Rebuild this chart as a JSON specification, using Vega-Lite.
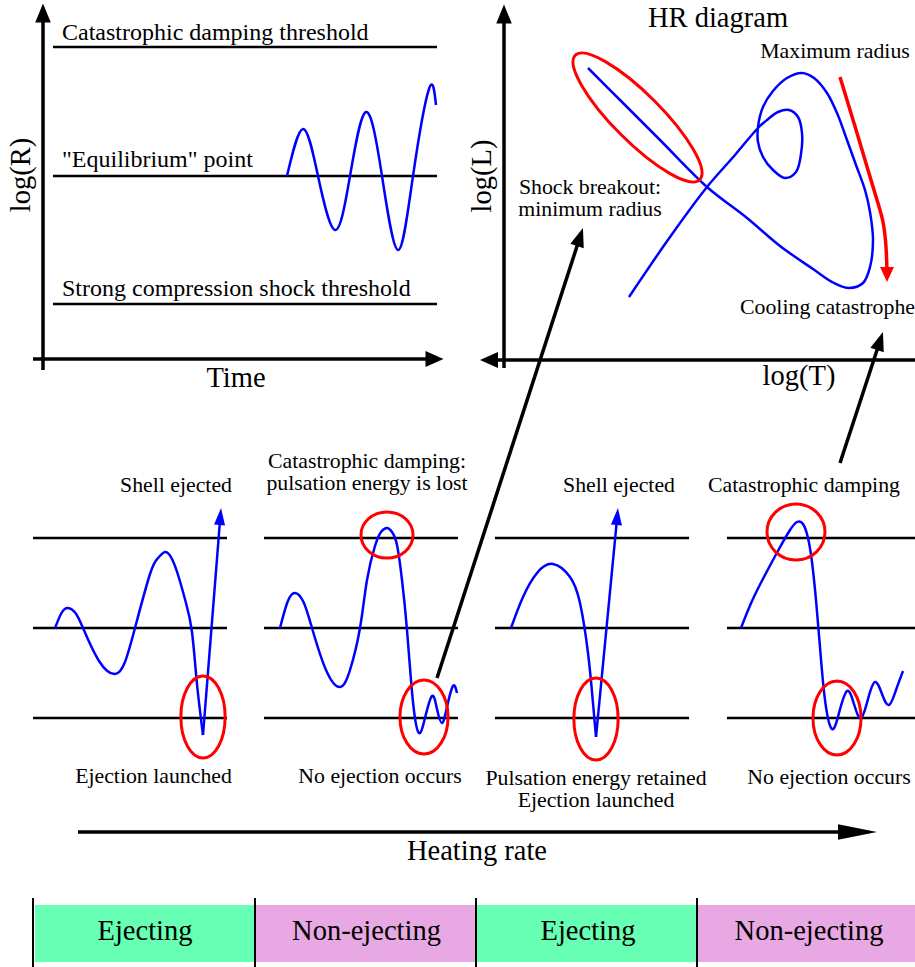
{
  "$schema": "https://vega.github.io/schema/vega-lite/v6.json",
  "width": 915,
  "height": 967,
  "padding": 0,
  "autosize": {"type": "none"},
  "background": "white",
  "config": {"view": {"stroke": null}},
  "encoding": {
    "x": {"field": "x", "type": "quantitative", "scale": {"domain": [0, 915], "nice": false, "zero": false}, "axis": null},
    "y": {"field": "y", "type": "quantitative", "scale": {"domain": [0, 967], "nice": false, "zero": false, "reverse": true}, "axis": null}
  },
  "layer": [
    {
      "data": {"values": [
        {"x": 35, "x2": 255, "y": 905, "y2": 962, "label": "Ejecting"},
        {"x": 255, "x2": 476, "y": 905, "y2": 962, "label": "Non-ejecting"},
        {"x": 476, "x2": 697, "y": 905, "y2": 962, "label": "Ejecting"},
        {"x": 697, "x2": 915, "y": 905, "y2": 962, "label": "Non-ejecting"}
      ]},
      "mark": {"type": "rect"},
      "encoding": {
        "x2": {"field": "x2"},
        "y2": {"field": "y2"},
        "color": {"field": "label", "type": "nominal", "scale": {"domain": ["Ejecting", "Non-ejecting"], "range": ["#66ffb3", "#e8a8e3"]}, "legend": null}
      }
    },
    {
      "data": {"values": [
        {"x": 33, "y": 898, "x2": 33, "y2": 967},
        {"x": 255, "y": 898, "x2": 255, "y2": 967},
        {"x": 476, "y": 898, "x2": 476, "y2": 967},
        {"x": 697, "y": 898, "x2": 697, "y2": 967}
      ]},
      "mark": {"type": "rule", "color": "black", "strokeWidth": 2},
      "encoding": {"x2": {"field": "x2"}, "y2": {"field": "y2"}}
    },
    {
      "data": {"values": [
        {"x": 53, "y": 47, "x2": 437, "y2": 47},
        {"x": 53, "y": 176, "x2": 437, "y2": 176},
        {"x": 53, "y": 304, "x2": 437, "y2": 304},
        {"x": 33, "y": 538, "x2": 227, "y2": 538},
        {"x": 33, "y": 628, "x2": 227, "y2": 628},
        {"x": 33, "y": 718, "x2": 227, "y2": 718},
        {"x": 264, "y": 538, "x2": 458, "y2": 538},
        {"x": 264, "y": 628, "x2": 458, "y2": 628},
        {"x": 264, "y": 718, "x2": 458, "y2": 718},
        {"x": 495, "y": 538, "x2": 689, "y2": 538},
        {"x": 495, "y": 628, "x2": 689, "y2": 628},
        {"x": 495, "y": 718, "x2": 689, "y2": 718},
        {"x": 727, "y": 538, "x2": 915, "y2": 538},
        {"x": 727, "y": 628, "x2": 915, "y2": 628},
        {"x": 727, "y": 718, "x2": 915, "y2": 718}
      ]},
      "mark": {"type": "rule", "color": "black", "strokeWidth": 2.5},
      "encoding": {"x2": {"field": "x2"}, "y2": {"field": "y2"}}
    },
    {
      "data": {"values": [
        {"x": 43, "y": 20, "x2": 43, "y2": 370},
        {"x": 33, "y": 359, "x2": 432, "y2": 359},
        {"x": 504, "y": 20, "x2": 504, "y2": 368},
        {"x": 496, "y": 360, "x2": 915, "y2": 360},
        {"x": 78, "y": 832, "x2": 845, "y2": 832},
        {"x": 437, "y": 678, "x2": 580, "y2": 237},
        {"x": 840, "y": 463, "x2": 880, "y2": 341}
      ]},
      "mark": {"type": "rule", "color": "black", "strokeWidth": 3.5},
      "encoding": {"x2": {"field": "x2"}, "y2": {"field": "y2"}}
    },
    {
      "data": {"values": [
        {"id": "A", "x": 287, "y": 176}, {"id": "A", "x": 303, "y": 129}, {"id": "A", "x": 318, "y": 176},
        {"id": "A", "x": 335, "y": 230}, {"id": "A", "x": 350, "y": 176}, {"id": "A", "x": 366, "y": 112},
        {"id": "A", "x": 382, "y": 176}, {"id": "A", "x": 398, "y": 250}, {"id": "A", "x": 413, "y": 176},
        {"id": "A", "x": 429, "y": 89}, {"id": "A", "x": 436, "y": 105},
        {"id": "B", "x": 55, "y": 628}, {"id": "B", "x": 61.5, "y": 613}, {"id": "B", "x": 68, "y": 608},
        {"id": "B", "x": 75.5, "y": 613}, {"id": "B", "x": 83, "y": 628}, {"id": "B", "x": 99, "y": 661},
        {"id": "B", "x": 115, "y": 674}, {"id": "B", "x": 125, "y": 662}, {"id": "B", "x": 135, "y": 628},
        {"id": "B", "x": 150, "y": 574}, {"id": "B", "x": 158, "y": 558}, {"id": "B", "x": 165, "y": 552},
        {"id": "B", "x": 172, "y": 559}, {"id": "B", "x": 179, "y": 578},
        {"id": "B", "x": 186, "y": 603}, {"id": "B", "x": 192, "y": 632}, {"id": "B", "x": 197, "y": 684}, {"id": "B", "x": 203, "y": 735},
        {"id": "C", "x": 280, "y": 628}, {"id": "C", "x": 287.5, "y": 602}, {"id": "C", "x": 295, "y": 593},
        {"id": "C", "x": 303.5, "y": 602}, {"id": "C", "x": 312, "y": 628}, {"id": "C", "x": 326, "y": 670},
        {"id": "C", "x": 340, "y": 687}, {"id": "C", "x": 350, "y": 670}, {"id": "C", "x": 360, "y": 628},
        {"id": "C", "x": 367, "y": 580}, {"id": "C", "x": 375, "y": 546}, {"id": "C", "x": 381, "y": 532},
        {"id": "C", "x": 387, "y": 528}, {"id": "C", "x": 392, "y": 532},
        {"id": "C", "x": 397, "y": 545}, {"id": "C", "x": 402, "y": 580}, {"id": "C", "x": 407, "y": 630},
        {"id": "C", "x": 413, "y": 702}, {"id": "C", "x": 419, "y": 733}, {"id": "C", "x": 425, "y": 718},
        {"id": "C", "x": 432, "y": 696}, {"id": "C", "x": 437, "y": 709}, {"id": "C", "x": 442, "y": 723},
        {"id": "C", "x": 447, "y": 707}, {"id": "C", "x": 453, "y": 686}, {"id": "C", "x": 457, "y": 693},
        {"id": "D", "x": 511, "y": 628}, {"id": "D", "x": 523, "y": 597}, {"id": "D", "x": 537, "y": 573},
        {"id": "D", "x": 553, "y": 564}, {"id": "D", "x": 570, "y": 577}, {"id": "D", "x": 580, "y": 603},
        {"id": "D", "x": 588, "y": 653}, {"id": "D", "x": 593, "y": 703}, {"id": "D", "x": 596, "y": 737},
        {"id": "E", "x": 741, "y": 628}, {"id": "E", "x": 752, "y": 601}, {"id": "E", "x": 765, "y": 575},
        {"id": "E", "x": 779, "y": 549}, {"id": "E", "x": 790, "y": 530}, {"id": "E", "x": 797, "y": 522},
        {"id": "E", "x": 803, "y": 524}, {"id": "E", "x": 808, "y": 538},
        {"id": "E", "x": 812, "y": 562}, {"id": "E", "x": 816, "y": 600}, {"id": "E", "x": 820, "y": 647},
        {"id": "E", "x": 825, "y": 700}, {"id": "E", "x": 832, "y": 729},
        {"id": "E", "x": 839, "y": 713}, {"id": "E", "x": 847, "y": 691}, {"id": "E", "x": 854, "y": 704},
        {"id": "E", "x": 861, "y": 718}, {"id": "E", "x": 868, "y": 699}, {"id": "E", "x": 875, "y": 682},
        {"id": "E", "x": 882, "y": 694}, {"id": "E", "x": 889, "y": 705}, {"id": "E", "x": 896, "y": 690},
        {"id": "E", "x": 903, "y": 671}
      ]},
      "mark": {"type": "line", "color": "#0000ff", "strokeWidth": 2.5, "interpolate": "natural"},
      "encoding": {"detail": {"field": "id", "type": "nominal"}}
    },
    {
      "data": {"values": [
        {"id": "s1", "x": 203, "y": 735}, {"id": "s1", "x": 220.3, "y": 517},
        {"id": "s3", "x": 596, "y": 737}, {"id": "s3", "x": 617.2, "y": 517}
      ]},
      "mark": {"type": "line", "color": "#0000ff", "strokeWidth": 2.5},
      "encoding": {"detail": {"field": "id", "type": "nominal"}}
    },
    {
      "data": {"values": [
        {"x": 588, "y": 68}, {"x": 620, "y": 100}, {"x": 660, "y": 140}, {"x": 707, "y": 187},
        {"x": 747, "y": 218}, {"x": 780, "y": 246}, {"x": 813, "y": 269}, {"x": 834, "y": 283},
        {"x": 849, "y": 288}, {"x": 863, "y": 283}, {"x": 870, "y": 267}, {"x": 873, "y": 240},
        {"x": 870, "y": 212}, {"x": 865, "y": 190}, {"x": 856, "y": 165}, {"x": 847, "y": 140},
        {"x": 837, "y": 113}, {"x": 827, "y": 93}, {"x": 814, "y": 78}, {"x": 802, "y": 73},
        {"x": 787, "y": 78}, {"x": 773, "y": 91}, {"x": 763, "y": 107}, {"x": 758, "y": 127},
        {"x": 758, "y": 142}, {"x": 763, "y": 157}, {"x": 773, "y": 170}, {"x": 785, "y": 178},
        {"x": 796, "y": 172}, {"x": 801, "y": 154}, {"x": 802, "y": 133}, {"x": 798, "y": 117},
        {"x": 789, "y": 110}, {"x": 778, "y": 112}, {"x": 767, "y": 120}, {"x": 758, "y": 128},
        {"x": 735, "y": 155}, {"x": 707, "y": 187}, {"x": 670, "y": 237}, {"x": 629, "y": 297}
      ]},
      "mark": {"type": "line", "color": "#0000ff", "strokeWidth": 2.5, "interpolate": "catmull-rom"},
      "encoding": {"order": {"value": null}}
    },
    {
      "data": {"values": [
        {"x": 840, "y": 77}, {"x": 857, "y": 133}, {"x": 868, "y": 170}, {"x": 877, "y": 200},
        {"x": 883, "y": 222}, {"x": 886, "y": 247}, {"x": 887, "y": 272}
      ]},
      "mark": {"type": "line", "color": "#ff0000", "strokeWidth": 3.5, "interpolate": "natural"},
      "encoding": {"order": {"value": null}}
    },
    {
      "data": {"values": [{"x": 637.5, "y": 117.5}]},
      "mark": {"type": "point", "filled": false, "opacity": 1, "color": "#ff0000", "strokeWidth": 3, "shape": "M-1,0A1,0.27,0,1,0,1,0A1,0.27,0,1,0,-1,0", "size": 30976, "angle": 45}
    },
    {
      "data": {"values": [{"x": 203, "y": 717}, {"x": 596, "y": 719}]},
      "mark": {"type": "point", "filled": false, "opacity": 1, "color": "#ff0000", "strokeWidth": 3, "shape": "M0,-1A0.54,1,0,1,0,0,1A0.54,1,0,1,0,0,-1", "size": 6724}
    },
    {
      "data": {"values": [{"x": 424, "y": 717}, {"x": 837, "y": 718}]},
      "mark": {"type": "point", "filled": false, "opacity": 1, "color": "#ff0000", "strokeWidth": 3, "shape": "M0,-1A0.65,1,0,1,0,0,1A0.65,1,0,1,0,0,-1", "size": 5476}
    },
    {
      "data": {"values": [{"x": 387, "y": 535}]},
      "mark": {"type": "point", "filled": false, "opacity": 1, "color": "#ff0000", "strokeWidth": 3, "shape": "M-1,0A1,0.885,0,1,0,1,0A1,0.885,0,1,0,-1,0", "size": 2704}
    },
    {
      "data": {"values": [{"x": 796, "y": 532}]},
      "mark": {"type": "point", "filled": false, "opacity": 1, "color": "#ff0000", "strokeWidth": 3, "shape": "M-1,0A1,0.966,0,1,0,1,0A1,0.966,0,1,0,-1,0", "size": 3364}
    },
    {
      "data": {"values": [{"x": 43, "y": 13}, {"x": 504, "y": 14}]},
      "mark": {"type": "point", "filled": true, "opacity": 1, "color": "black", "strokeWidth": 0, "shape": "M0,-1L0.82,1L-0.82,1Z", "size": 361, "angle": 0}
    },
    {
      "data": {"values": [{"x": 434.5, "y": 359}]},
      "mark": {"type": "point", "filled": true, "opacity": 1, "color": "black", "strokeWidth": 0, "shape": "M0,-1L0.9,1L-0.9,1Z", "size": 324, "angle": 90}
    },
    {
      "data": {"values": [{"x": 489, "y": 360}]},
      "mark": {"type": "point", "filled": true, "opacity": 1, "color": "black", "strokeWidth": 0, "shape": "M0,-1L0.9,1L-0.9,1Z", "size": 324, "angle": 270}
    },
    {
      "data": {"values": [{"x": 857.5, "y": 832}]},
      "mark": {"type": "point", "filled": true, "opacity": 1, "color": "black", "strokeWidth": 0, "shape": "M0,-1L0.4,1L-0.4,1Z", "size": 1521, "angle": 90}
    },
    {
      "data": {"values": [{"x": 580, "y": 237}, {"x": 880, "y": 341}]},
      "mark": {"type": "point", "filled": true, "opacity": 1, "color": "black", "strokeWidth": 0, "shape": "M0,-1L0.74,1L-0.74,1Z", "size": 361, "angle": 18}
    },
    {
      "data": {"values": [{"x": 220.3, "y": 516.5}, {"x": 617.2, "y": 516.5}]},
      "mark": {"type": "point", "filled": true, "opacity": 1, "color": "#0000ff", "strokeWidth": 0, "shape": "M0,-1L0.65,1L-0.65,1Z", "size": 289, "angle": 5}
    },
    {
      "data": {"values": [{"x": 887, "y": 274.5}]},
      "mark": {"type": "point", "filled": true, "opacity": 1, "color": "#ff0000", "strokeWidth": 0, "shape": "M0,-1L0.93,1L-0.93,1Z", "size": 225, "angle": 180}
    },
    {
      "data": {"values": [
        {"x": 236, "y": 387, "text": "Time"},
        {"x": 718, "y": 27, "text": "HR diagram"},
        {"x": 799, "y": 385, "text": "log(T)"},
        {"x": 477, "y": 860, "text": "Heating rate"},
        {"x": 145, "y": 940, "text": "Ejecting"},
        {"x": 366.5, "y": 940, "text": "Non-ejecting"},
        {"x": 588, "y": 940, "text": "Ejecting"},
        {"x": 809, "y": 940, "text": "Non-ejecting"}
      ]},
      "mark": {"type": "text", "font": "'Liberation Serif', 'Times New Roman', Times, 'DejaVu Serif', serif", "fontSize": 28.5, "color": "black", "align": "center", "baseline": "alphabetic"},
      "encoding": {"text": {"field": "text"}}
    },
    {
      "data": {"values": [
        {"x": 30, "y": 175, "text": "log(R)"},
        {"x": 491, "y": 176, "text": "log(L)"}
      ]},
      "mark": {"type": "text", "font": "'Liberation Serif', 'Times New Roman', Times, 'DejaVu Serif', serif", "fontSize": 28.5, "color": "black", "align": "center", "baseline": "alphabetic", "angle": 270},
      "encoding": {"text": {"field": "text"}}
    },
    {
      "data": {"values": [
        {"x": 62, "y": 40, "text": "Catastrophic damping threshold"},
        {"x": 62, "y": 167, "text": "\"Equilibrium\" point"},
        {"x": 62, "y": 296, "text": "Strong compression shock threshold"}
      ]},
      "mark": {"type": "text", "font": "'Liberation Serif', 'Times New Roman', Times, 'DejaVu Serif', serif", "fontSize": 24, "color": "black", "align": "left", "baseline": "alphabetic"},
      "encoding": {"text": {"field": "text"}}
    },
    {
      "data": {"values": [
        {"x": 835, "y": 58, "text": "Maximum radius"},
        {"x": 590, "y": 194, "text": "Shock breakout:"},
        {"x": 590, "y": 216, "text": "minimum radius"},
        {"x": 827.5, "y": 314, "text": "Cooling catastrophe"},
        {"x": 176, "y": 492, "text": "Shell ejected"},
        {"x": 153.5, "y": 783, "text": "Ejection launched"},
        {"x": 367, "y": 468, "text": "Catastrophic damping:"},
        {"x": 367, "y": 490, "text": "pulsation energy is lost"},
        {"x": 380, "y": 783, "text": "No ejection occurs"},
        {"x": 619, "y": 492, "text": "Shell ejected"},
        {"x": 596, "y": 785, "text": "Pulsation energy retained"},
        {"x": 596, "y": 807, "text": "Ejection launched"},
        {"x": 804, "y": 492, "text": "Catastrophic damping"},
        {"x": 829, "y": 784, "text": "No ejection occurs"}
      ]},
      "mark": {"type": "text", "font": "'Liberation Serif', 'Times New Roman', Times, 'DejaVu Serif', serif", "fontSize": 21.8, "color": "black", "align": "center", "baseline": "alphabetic"},
      "encoding": {"text": {"field": "text"}}
    }
  ]
}
